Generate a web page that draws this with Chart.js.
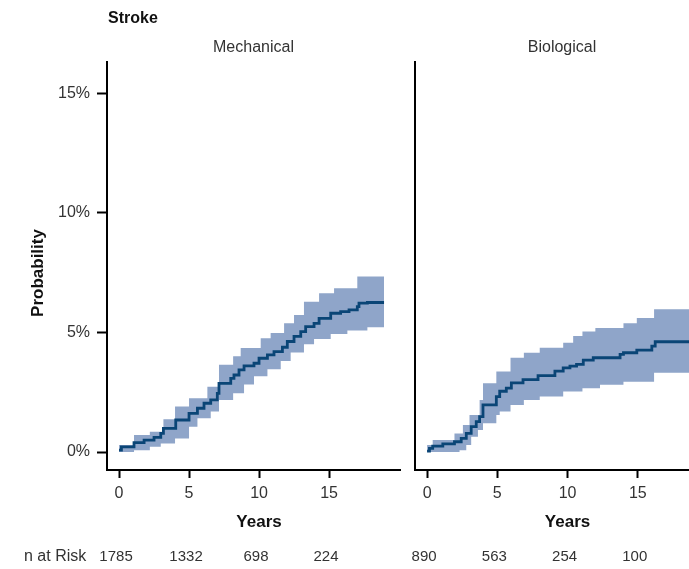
<!DOCTYPE html>
<html>
<head>
<meta charset="utf-8">
<title>Stroke</title>
<script src="https://cdn.jsdelivr.net/npm/chart.js@4.4.1/dist/chart.umd.min.js"></script>
<style>
  html, body { margin: 0; padding: 0; background: #fff; overflow: hidden; }
  #wrap { position: relative; width: 689px; height: 569px; overflow: hidden; }
  canvas { position: absolute; top: 0; }
  #mech { left: 0; }
  #bio { left: 405px; }
</style>
</head>
<body>
<div id="wrap">
  <canvas id="mech" width="410" height="569"></canvas>
  <canvas id="bio" width="310" height="569"></canvas>
</div>
<script>
// axis ticks
const yearTicks = [0, 5, 10, 15];
const probTicks = [0, 5, 10, 15];

// Mechanical valve: cumulative stroke probability (%)
const mechYears = [0, 0.17, 1.07, 1.79, 2.5, 2.98, 3.17, 4.05, 5.0, 5.6, 6.07, 6.55, 7.02, 7.14, 7.98, 8.21, 8.57, 8.93, 9.64, 10.0, 10.6, 11.07, 11.67, 12.02, 12.5, 12.98, 13.33, 13.93, 14.29, 15.12, 15.83, 16.43, 17.02, 17.14, 17.74, 18.93];
const mechProb = [0.08, 0.22, 0.39, 0.50, 0.61, 0.78, 0.99, 1.34, 1.62, 1.83, 2.04, 2.18, 2.45, 2.87, 3.08, 3.22, 3.43, 3.60, 3.71, 3.92, 4.06, 4.20, 4.38, 4.62, 4.83, 5.03, 5.24, 5.38, 5.59, 5.80, 5.87, 5.94, 6.08, 6.22, 6.25, 6.25];
// confidence band (lower / upper bound at each change time)
const mechBandYears = [0, 1.07, 2.2, 2.98, 3.17, 4.0, 5.0, 5.6, 6.31, 6.55, 7.14, 8.15, 8.69, 8.93, 9.64, 10.12, 10.6, 10.83, 11.55, 11.79, 12.26, 12.5, 13.21, 13.93, 14.29, 15.12, 15.36, 16.31, 17.02, 17.74, 18.93];
const mechUpper = [0.29, 0.71, 0.85, 0.85, 1.37, 1.90, 2.25, 2.25, 2.73, 2.73, 3.65, 4.00, 4.35, 4.35, 4.35, 4.76, 4.76, 4.97, 4.97, 5.38, 5.38, 5.73, 6.28, 6.28, 6.64, 6.64, 6.85, 6.85, 7.34, 7.34, 7.34];
const mechLower = [0, 0.08, 0.22, 0.36, 0.36, 0.57, 1.06, 1.41, 1.41, 1.69, 2.18, 2.46, 2.46, 2.82, 3.17, 3.17, 3.46, 3.46, 3.81, 3.81, 4.16, 4.16, 4.51, 4.72, 4.72, 4.93, 4.93, 5.08, 5.08, 5.22, 5.22];
const mechAtRisk = [1785, 1332, 698, 224];

// Biological valve
const bioYears = [0, 0.17, 0.4, 1.12, 1.95, 2.43, 2.79, 3.14, 3.5, 3.74, 3.98, 4.93, 5.17, 5.64, 6.0, 6.83, 7.9, 9.1, 9.69, 10.17, 10.64, 11.12, 11.83, 13.74, 13.98, 14.93, 16.0, 16.24, 18.9];
const bioProb = [0.04, 0.15, 0.25, 0.34, 0.43, 0.57, 0.78, 1.06, 1.27, 1.48, 1.97, 2.32, 2.54, 2.67, 2.89, 3.03, 3.19, 3.38, 3.52, 3.59, 3.66, 3.84, 3.94, 4.08, 4.15, 4.26, 4.43, 4.61, 4.61];
const bioBandYears = [0, 0.4, 1.95, 2.31, 2.55, 2.79, 3.02, 3.14, 3.62, 3.74, 3.98, 4.93, 5.17, 5.94, 6.89, 8.02, 9.69, 10.4, 11.06, 11.98, 12.31, 13.98, 14.93, 16.16, 18.9];
const bioUpper = [0.29, 0.50, 0.78, 0.78, 1.13, 1.13, 1.55, 1.55, 1.55, 2.18, 2.88, 3.37, 3.37, 3.94, 4.15, 4.36, 4.57, 4.85, 5.04, 5.18, 5.18, 5.38, 5.60, 5.97, 5.97];
const bioLower = [0, 0, 0, 0.08, 0.08, 0.29, 0.29, 0.64, 0.92, 0.92, 1.20, 1.55, 1.69, 1.97, 2.18, 2.32, 2.53, 2.53, 2.67, 2.67, 2.81, 2.94, 2.94, 3.31, 3.31];
const bioAtRisk = [890, 563, 254, 100];

const LINE = '#0a4576';
const BAND = '#8fa5c9';
const FONT = '"Liberation Sans", Arial, sans-serif';

function toPoints(xs, ys) {
    return xs.map((x, i) => ({ x: x, y: ys[i] }));
}

// titles, axis names and the number-at-risk row
const panelText = {
    id: 'panelText',
    afterDraw(chart, args, o) {
        const ctx = chart.ctx;
        const area = chart.chartArea;
        const xs = chart.scales.x;
        ctx.save();
        ctx.textBaseline = 'middle';
        ctx.textAlign = 'center';
        ctx.fillStyle = '#333';
        ctx.font = '16px ' + FONT;
        ctx.fillText(o.title, (area.left + area.right) / 2, 48);

        ctx.fillStyle = '#111';
        ctx.font = 'bold 17px ' + FONT;
        ctx.fillText('Years', xs.getPixelForValue(10), 522);

        ctx.fillStyle = '#333';
        ctx.font = '15px ' + FONT;
        o.atRisk.forEach((n, i) => {
            ctx.fillText(String(n), xs.getPixelForValue(yearTicks[i]) - 3, 557);
        });

        if (o.first) {
            ctx.textAlign = 'left';
            ctx.font = '16px ' + FONT;
            ctx.fillText('n at Risk', 24, 557);
            ctx.fillStyle = '#111';
            ctx.font = 'bold 16px ' + FONT;
            ctx.fillText('Stroke', 108, 19);
            ctx.font = 'bold 17px ' + FONT;
            ctx.translate(38, 273);
            ctx.rotate(-Math.PI / 2);
            ctx.textAlign = 'center';
            ctx.fillText('Probability', 0, 0);
        }
        ctx.restore();
    }
};

function createPanel(elementId, p) {
    const ctx = document.getElementById(elementId).getContext('2d');
    return new Chart(ctx, {
        type: 'line',
        data: {
            datasets: [
                {
                    // estimate on top of the band
                    data: toPoints(p.years, p.prob),
                    borderColor: LINE,
                    borderWidth: 2.8,
                    pointRadius: 0,
                    stepped: 'before',
                    fill: false
                },
                {
                    data: toPoints(p.bandYears, p.upper),
                    borderWidth: 0,
                    pointRadius: 0,
                    stepped: 'before',
                    backgroundColor: BAND,
                    fill: '+1'
                },
                {
                    data: toPoints(p.bandYears, p.lower),
                    borderWidth: 0,
                    pointRadius: 0,
                    stepped: 'before',
                    fill: false
                }
            ]
        },
        options: {
            responsive: false,
            animation: false,
            events: [],
            layout: {
                padding: { left: 0, right: p.padRight, top: 62, bottom: 0 }
            },
            plugins: {
                legend: { display: false },
                tooltip: { enabled: false },
                panelText: { title: p.title, atRisk: p.atRisk, first: p.first }
            },
            scales: {
                x: {
                    type: 'linear',
                    min: -0.86,
                    max: 20.07,
                    afterBuildTicks: s => { s.ticks = yearTicks.map(v => ({ value: v })); },
                    afterFit: s => { s.height = 99; },
                    border: { display: true, color: '#000', width: 2 },
                    grid: { drawOnChartArea: false, tickLength: 8, tickWidth: 2, tickColor: '#000' },
                    ticks: {
                        padding: 6,
                        maxRotation: 0,
                        color: '#333',
                        font: { family: FONT, size: 16 }
                    }
                },
                y: {
                    min: -0.75,
                    max: 16.3,
                    afterBuildTicks: s => { s.ticks = probTicks.map(v => ({ value: v })); },
                    afterFit: s => { s.width = p.yWidth; },
                    border: { display: true, color: '#000', width: 2 },
                    grid: {
                        display: p.first,
                        drawOnChartArea: false,
                        tickLength: 10,
                        tickWidth: 2,
                        tickColor: '#000'
                    },
                    ticks: {
                        display: p.first,
                        padding: 7,
                        color: '#333',
                        font: { family: FONT, size: 16 },
                        callback: v => v + '%'
                    }
                }
            }
        },
        plugins: [panelText]
    });
}

createPanel('mech', {
    title: 'Mechanical', first: true, yWidth: 107, padRight: 10,
    years: mechYears, prob: mechProb,
    bandYears: mechBandYears, upper: mechUpper, lower: mechLower,
    atRisk: mechAtRisk
});

createPanel('bio', {
    title: 'Biological', first: false, yWidth: 10, padRight: 6,
    years: bioYears, prob: bioProb,
    bandYears: bioBandYears, upper: bioUpper, lower: bioLower,
    atRisk: bioAtRisk
});
</script>
</body>
</html>
